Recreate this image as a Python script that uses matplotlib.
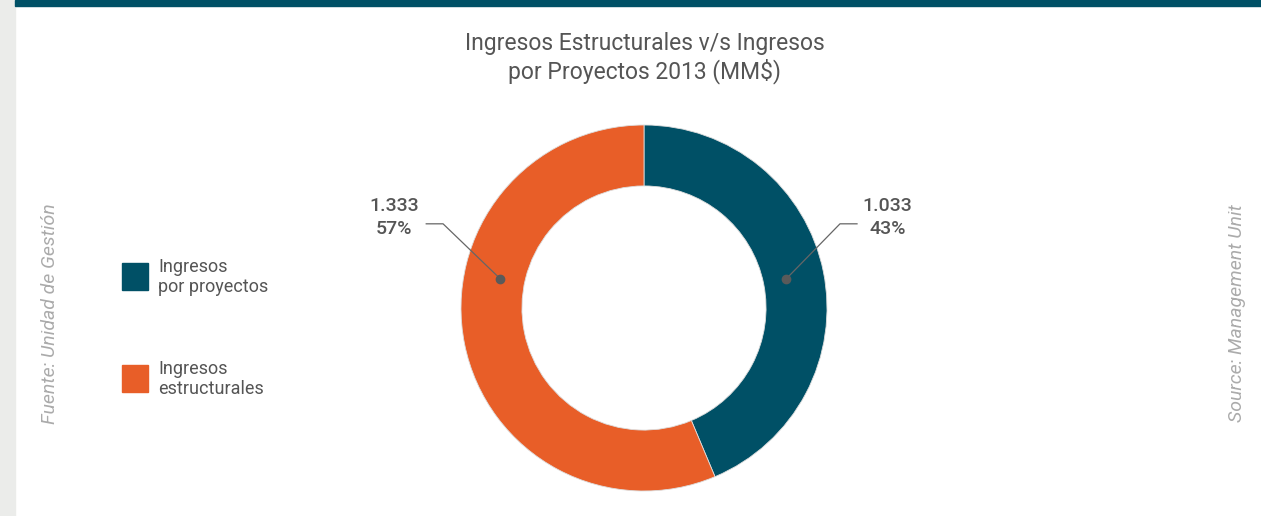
import numpy as np
import matplotlib
matplotlib.use('Agg')
import matplotlib.pyplot as plt
from matplotlib.patches import Rectangle

# data
categories = ['Ingresos\npor proyectos', 'Ingresos\nestructurales']
values = [1033, 1333]
value_labels = ['1.033', '1.333']
pct_labels = ['43%', '57%']
colors = ['#005066', '#e85e28']

plt.rcParams['font.family'] = ['Roboto', 'DejaVu Sans']
W, H = 1261, 516
fig = plt.figure(figsize=(W / 100, H / 100), dpi=100)

# side strip and top bar
fig.patches.append(Rectangle((0, 0), 15 / W, 1, transform=fig.transFigure, color='#ebecea', zorder=0))
fig.patches.append(Rectangle((15 / W, 1 - 6 / H), 1, 6 / H, transform=fig.transFigure, color='#005066', zorder=0))

# donut
cx, cy, r = 644, 308, 183
ax = fig.add_axes([(cx - r) / W, (H - cy - r) / H, 2 * r / W, 2 * r / H])
wedges, _ = ax.pie(values, colors=colors, startangle=90, counterclock=False, radius=1,
                   wedgeprops=dict(width=0.333, edgecolor='#dddddd', linewidth=0.6))
ax.set_xlim(-1, 1)
ax.set_ylim(-1, 1)
ax.set_aspect('equal')
ax.axis('off')

# leader lines and labels
w0 = wedges[0]
ang = np.deg2rad((w0.theta1 + w0.theta2) / 2)
for i, side in enumerate([1, -1]):
    a = ang if side == 1 else np.pi - ang
    rd = 0.79 if side == 1 else 0.80
    px, py = rd * np.cos(a), rd * np.sin(a)
    ex = 1.071 if side == 1 else 1.098
    xe = 1.164 if side == 1 else 1.19
    ey = 0.46
    ax.plot([px, side * ex, side * xe], [py, ey, ey], color='#666666', lw=0.9, clip_on=False)
    ax.plot(px, py, 'o', color='#5a5a5a', ms=6, clip_on=False)
    tx = 1.33 if side == 1 else 1.366
    ax.text(side * tx, 0.555, value_labels[i], ha='center', va='center', fontsize=14,
            fontweight='medium', color='#555555', clip_on=False)
    ax.text(side * tx, 0.432, pct_labels[i], ha='center', va='center', fontsize=14,
            fontweight='medium', color='#555555', clip_on=False)

# title
fig.text(645 / W, 1 - 58 / H, 'Ingresos Estructurales v/s Ingresos\npor Proyectos 2013 (MM$)',
         ha='center', va='center', fontsize=16.5, color='#555555', linespacing=1.2)

# legend
for i, (lab, col) in enumerate(zip(categories, colors)):
    y0 = [263, 365][i]
    fig.patches.append(Rectangle((122 / W, 1 - (y0 + 27) / H), 26 / W, 27 / H,
                                 transform=fig.transFigure, color=col))
    fig.text(158 / W, 1 - (y0 + 14) / H, lab, ha='left', va='center', fontsize=13,
             color='#555555', linespacing=1.15)

# sources
fig.text(50 / W, 1 - 314 / H, 'Fuente: Unidad de Gestión', rotation=90, ha='center', va='center',
         fontsize=14, style='italic', color='#ababab')
fig.text(1237 / W, 1 - 313 / H, 'Source: Management Unit', rotation=90, ha='center', va='center',
         fontsize=14, style='italic', color='#ababab')

fig.savefig('out.png', dpi=100)
